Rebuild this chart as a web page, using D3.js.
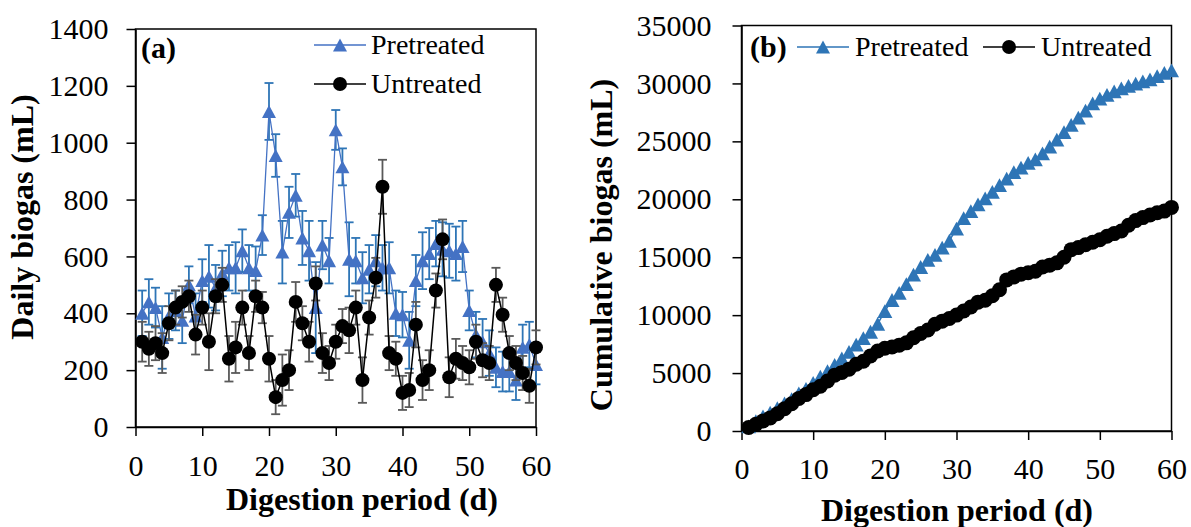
<!DOCTYPE html>
<html><head><meta charset="utf-8">
<script src="https://cdn.jsdelivr.net/npm/d3@7"></script>
<style>
body{margin:0;background:#fff}
svg text{font-family:"Liberation Serif","Times New Roman",serif;fill:#000}
</style>
</head><body>
<svg id="c" width="1191" height="527"></svg>
<script>
// ---------------- DATA ----------------
const days = [1,2,3,4,5,6,7,8,9,10,11,12,13,14,15,16,17,18,19,20,21,22,23,24,25,26,27,28,29,30,
              31,32,33,34,35,36,37,38,39,40,41,42,43,44,45,46,47,48,49,50,51,52,53,54,55,56,57,58,59,60];
const seriesNames = ["Pretreated","Untreated"];
// Daily biogas (mL)
const preDaily = [400,440,420,315,390,410,375,500,390,515, 530,490,540,560,560,620,560,550,675,1110,
                  955,615,755,815,665,620,420,640,585,1045, 915,590,585,525,555,585,560,560,400,395,
                  305,515,585,610,645,625,620,610,635,410, 325,300,260,210,195,195,165,280,290,220];
const preErr   = [80,80,70,110,80,70,80,65,80,75, 110,80,80,80,90,75,80,85,70,100,
                  75,110,90,75,95,105,160,85,80,70, 65,130,80,90,85,90,80,90,80,80,
                  100,90,100,90,80,95,95,95,90,70, 80,80,80,70,70,70,70,80,80,70];
const untDaily = [300,275,295,260,365,420,440,460,325,420, 300,460,500,240,280,420,260,460,420,240,
                  105,165,200,440,365,300,505,260,225,300, 355,340,420,165,385,525,845,260,240,120,
                  130,360,165,200,480,660,175,240,225,210, 300,235,225,500,395,260,225,190,145,280];
const untErr   = [70,60,60,70,60,60,55,55,70,60, 100,60,60,80,90,60,60,55,55,80,
                  60,90,70,70,60,70,60,70,60,60, 60,80,60,80,60,70,95,60,60,60,
                  60,80,70,70,60,70,70,70,60,60, 60,60,60,60,60,60,60,60,60,60];
// Cumulative biogas (mL)
const preCum = [400,840,1260,1575,1965,2375,2750,3250,3640,4155, 4685,5175,5715,6275,6835,7455,8015,8565,9240,10350,
                11305,11920,12675,13490,14155,14775,15195,15835,16420,17465, 18380,18970,19555,20080,20635,21220,21780,22340,22740,23135,
                23440,23955,24540,25150,25795,26420,27040,27650,28285,28695, 29020,29320,29580,29790,29985,30180,30345,30625,30915,31135];
const untCum = [300,575,870,1130,1495,1915,2355,2815,3140,3560, 3860,4320,4820,5060,5340,5760,6020,6480,6900,7140,
                7245,7410,7610,8050,8415,8715,9220,9480,9705,10005, 10360,10700,11120,11285,11670,12195,13040,13300,13540,13660,
                13790,14150,14315,14515,14995,15655,15830,16070,16295,16505, 16805,17040,17265,17765,18160,18420,18645,18835,18980,19300];
const xTicks = [0,10,20,30,40,50,60];
const yTicksA = [0,200,400,600,800,1000,1200,1400];
const yTicksB = [0,5000,10000,15000,20000,25000,30000,35000];

// ---------------- DRAW ----------------
const svg = d3.select("#c");
const BLUE_A = "#4472C4", BLUE_ERR = "#2E75B6", BLUE_B = "#2E75B6", GREY = "#595959";

function tri(w,h){ return `M0,${-h/2}L${w/2},${h/2}L${-w/2},${h/2}Z`; }

function panel(opt){
  const g = svg.append("g");
  const x = d3.scaleLinear().domain([0,60]).range([opt.L,opt.R]);
  const y = d3.scaleLinear().domain([0,opt.ymax]).range([opt.B,opt.T]);
  g.append("rect").attr("x",opt.L).attr("y",opt.T).attr("width",opt.R-opt.L).attr("height",opt.B-opt.T)
    .attr("fill","none").attr("stroke","#000").attr("stroke-width",1.5);
  const ax = g.append("g").attr("transform",`translate(0,${opt.B})`)
    .call(d3.axisBottom(x).tickValues(xTicks).tickSize(9).tickSizeOuter(0).tickPadding(opt.xPad));
  const ay = g.append("g").attr("transform",`translate(${opt.L},0)`)
    .call(d3.axisLeft(y).tickValues(opt.yTicks).tickSize(9).tickSizeOuter(0).tickPadding(opt.yPad).tickFormat(d3.format("d")));
  [ax,ay].forEach(a=>{
    a.selectAll("path.domain").attr("stroke","#000").attr("stroke-width",1.5);
    a.selectAll(".tick line").attr("stroke","#000").attr("stroke-width",1.5);
    a.selectAll(".tick text").style("font-size","30px").style("font-family","Liberation Serif");
  });
  g.append("text").attr("x",opt.xtx).attr("y",opt.xty).attr("text-anchor","middle")
    .style("font-size","32px").style("font-weight","bold").text("Digestion period (d)");
  g.append("text").attr("transform",`translate(${opt.ytx},${opt.yty}) rotate(-90)`).attr("text-anchor","middle")
    .style("font-size","32px").style("font-weight","bold").text(opt.ytitle);
  return {g,x,y};
}

// ---- Panel (a) ----
const A = panel({L:135.5,R:536,T:29,B:427,ymax:1400,yTicks:yTicksA,xPad:19,yPad:18,
  xtx:362,xty:510,ytx:33,yty:217,ytitle:"Daily biogas (mL)"});
function errBars(p, vals, errs, color){
  const eg = p.g.append("g").attr("stroke",color).attr("stroke-width",1.8).attr("fill","none");
  days.forEach((d,i)=>{
    const cx = p.x(d), y1 = p.y(vals[i]-errs[i]), y2 = p.y(vals[i]+errs[i]);
    eg.append("line").attr("x1",cx).attr("x2",cx).attr("y1",y1).attr("y2",y2);
    eg.append("line").attr("x1",cx-4.5).attr("x2",cx+4.5).attr("y1",y1).attr("y2",y1);
    eg.append("line").attr("x1",cx-4.5).attr("x2",cx+4.5).attr("y1",y2).attr("y2",y2);
  });
}
function series(p, vals, color, marker, lw, size){
  const line = d3.line().x((d,i)=>p.x(days[i])).y(d=>p.y(d));
  p.g.append("path").datum(vals).attr("d",line).attr("fill","none").attr("stroke",color).attr("stroke-width",lw);
  if(marker==="tri"){
    p.g.append("g").selectAll("path").data(vals).join("path")
      .attr("transform",(d,i)=>`translate(${p.x(days[i])},${p.y(d)})`).attr("d",tri(size,size*0.92)).attr("fill",color);
  } else {
    p.g.append("g").selectAll("circle").data(vals).join("circle")
      .attr("cx",(d,i)=>p.x(days[i])).attr("cy",d=>p.y(d)).attr("r",size/2).attr("fill",color);
  }
}
errBars(A, preDaily, preErr, BLUE_ERR);
series(A, preDaily, BLUE_A, "tri", 1.3, 14);
errBars(A, untDaily, untErr, GREY);
series(A, untDaily, "#000", "circ", 1.5, 14);
A.g.append("text").attr("x",141).attr("y",58).style("font-size","30px").style("font-weight","bold").text("(a)");
[[seriesNames[0],45,BLUE_A,"tri"],[seriesNames[1],84,"#000","circ"]].forEach(([n,yy,c,m])=>{
  A.g.append("line").attr("x1",314).attr("x2",366).attr("y1",yy).attr("y2",yy).attr("stroke",c).attr("stroke-width",1.5);
  if(m==="tri") A.g.append("path").attr("transform",`translate(340,${yy})`).attr("d",tri(14,13)).attr("fill",c);
  else A.g.append("circle").attr("cx",340).attr("cy",yy).attr("r",7).attr("fill",c);
  A.g.append("text").attr("x",371).attr("y",yy).attr("dy","0.33em").style("font-size","28px").text(n);
});

// ---- Panel (b) ----
const B = panel({L:741.5,R:1171.5,T:25.5,B:431,ymax:35000,yTicks:yTicksB,xPad:18,yPad:21,
  xtx:957,xty:521,ytx:612,yty:245,ytitle:"Cumulative biogas (mL)"});
series(B, preCum, BLUE_B, "tri", 1.5, 15);
series(B, untCum, "#000", "circ", 1.5, 15);
B.g.append("text").attr("x",750).attr("y",57).style("font-size","30px").style("font-weight","bold").text("(b)");
[[seriesNames[0],797,BLUE_B,"tri"],[seriesNames[1],983,"#000","circ"]].forEach(([n,xx,c,m])=>{
  const yy = 47;
  B.g.append("line").attr("x1",xx).attr("x2",xx+52).attr("y1",yy).attr("y2",yy).attr("stroke",c).attr("stroke-width",1.5);
  if(m==="tri") B.g.append("path").attr("transform",`translate(${xx+26},${yy})`).attr("d",tri(14,13)).attr("fill",c);
  else B.g.append("circle").attr("cx",xx+26).attr("cy",yy).attr("r",7).attr("fill",c);
  B.g.append("text").attr("x",xx+58).attr("y",yy).attr("dy","0.33em").style("font-size","28px").text(n);
});
</script>
</body></html>
